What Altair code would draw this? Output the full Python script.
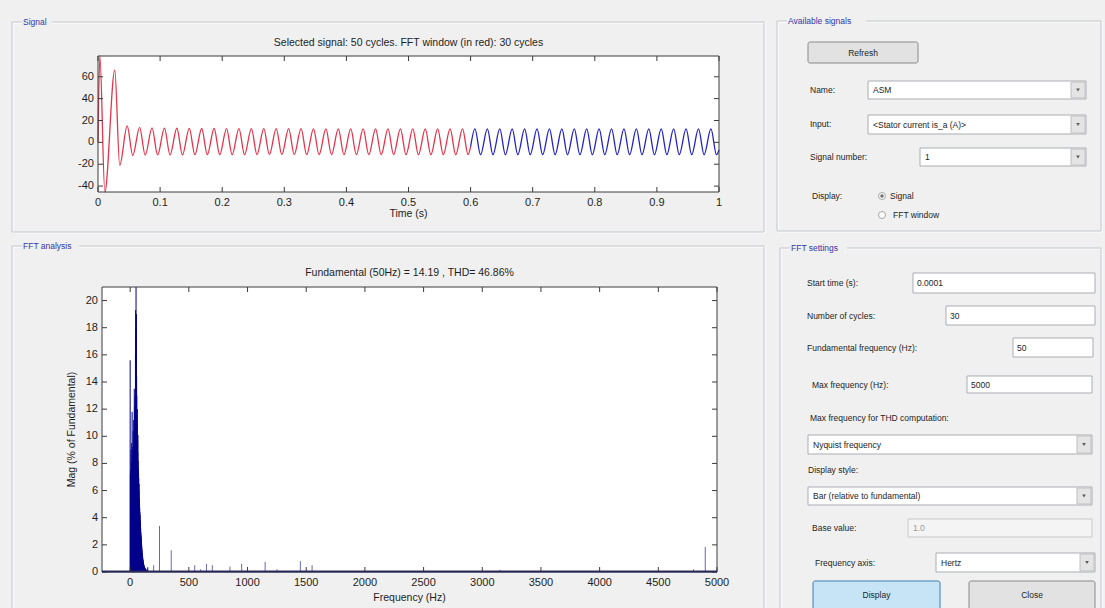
import altair as alt
import pandas as pd

FONT = "Liberation Sans"
W, H = 1105, 608
PAN_BG = "#f0f0f0"
TXT = "#1e1e1e"
FRAME = "#3c3c3c"
RED = "#e8334a"
BLUE = "#2323c8"
NAVY = "#00008b"

# ---------------- stator current is_a (A) ----------------
# start-up transient (time s, current A)
start_t = [0.0, 0.003, 0.011, 0.027, 0.035]
start_v = [0.0, 79.0, -45.4, 66.0, -21.0]
# steady 50 Hz oscillation: successive positive and negative peaks
peak_v = [15.0, 13.8, 13.3, 13.0, 12.9, 12.8, 12.7, 12.7,
          12.6, 12.6, 12.6, 12.5, 12.5, 12.5, 12.5, 12.4,
          12.4, 12.4, 12.4, 12.4, 12.4, 12.4, 12.3, 12.3,
          12.3, 12.3, 12.3, 12.3, 12.3, 12.3, 12.3, 12.3,
          12.3, 12.3, 12.3, 12.3, 12.3, 12.3, 12.3, 12.3,
          12.3, 12.3, 12.3, 12.3, 12.3, 12.3, 12.3, 12.3]
trough_v = [-12.0, -11.7, -11.5, -11.4, -11.4, -11.3, -11.3, -11.3,
            -11.3, -11.3, -11.3, -11.3, -11.3, -11.3, -11.3, -11.3,
            -11.3, -11.3, -11.3, -11.3, -11.3, -11.3, -11.3, -11.3,
            -11.3, -11.3, -11.3, -11.3, -11.3, -11.3, -11.3, -11.3,
            -11.3, -11.3, -11.3, -11.3, -11.3, -11.3, -11.3, -11.3,
            -11.3, -11.3, -11.3, -11.3, -11.3, -11.3, -11.3, -11.3]
window_end = (0.6, -4.0)
last_point = (1.0, -7.0)

# ---------------- FFT (% of fundamental) ----------------
bin_hz = 50 / 30  # resolution of a 30-cycle window
cluster_mag = [15.6,
               7.2, 6.8, 7.5, 9.0, 7.4, 8.1,
               7.6, 9.5, 8.0, 11.8, 7.9, 8.6,
               9.2, 7.8, 10.4, 8.3, 9.0, 11.2,
               8.8, 10.1, 13.5, 9.4, 12.2, 10.6,
               13.0, 11.5, 16.0, 19.3, 17.5,
               100.0,
               18.0, 19.0, 14.4, 13.0, 11.0,
               10.2, 12.0, 9.5, 8.8, 10.1, 8.2,
               7.6, 7.3, 6.9, 6.0, 6.5, 5.4,
               5.0, 4.7, 4.4, 4.2, 3.8, 3.6,
               3.2, 2.9, 2.7, 2.5, 2.2, 2.0,
               1.8, 1.6, 1.4, 1.3, 1.15, 1.0,
               0.9, 0.8, 0.7, 0.62, 0.55, 0.48,
               0.42, 0.38, 0.34, 0.3, 0.28, 0.25,
               0.23, 0.21, 0.19, 0.18, 0.16, 0.15,
               0.14, 0.13, 0.12, 0.11, 0.1, 0.1, 0.35]
harmonic_hz = [200, 250, 350, 550, 600, 650, 700, 850, 950, 1150, 1250,
               1450, 1550, 3150, 4800, 4900]
harmonic_mag = [0.5, 3.4, 1.6, 0.5, 0.2, 0.6, 0.5, 0.4, 0.6, 0.75, 0.2,
                0.8, 0.5, 0.15, 0.2, 1.85]

# axis tick values
sig_xticks = [0, 0.1, 0.2, 0.3, 0.4, 0.5, 0.6, 0.7, 0.8, 0.9, 1]
sig_yticks = [-40, -20, 0, 20, 40, 60]
fft_xticks = [0, 500, 1000, 1500, 2000, 2500, 3000, 3500, 4000, 4500, 5000]
fft_yticks = [0, 2, 4, 6, 8, 10, 12, 14, 16, 18, 20]

# ---------------- layout (pixels) ----------------
SIG_BOX = (98, 719, 56, 192)     # x0, x1, y0, y1 of the signal axes
FFT_BOX = (102, 717, 287, 572)   # x0, x1, y0, y1 of the spectrum axes
TICK = 5

sx = alt.Scale(domain=[0, 1], range=[SIG_BOX[0], SIG_BOX[1]], nice=False, zero=False)
sy = alt.Scale(domain=[-45.4, 79.0], range=[SIG_BOX[3], SIG_BOX[2]], nice=False, zero=False)
fx = alt.Scale(domain=[-240, 5000], range=[FFT_BOX[0], FFT_BOX[1]], nice=False, zero=False)
fy = alt.Scale(domain=[0, 21], range=[FFT_BOX[3], FFT_BOX[2]], nice=False, zero=False, clamp=True)


def axis_marks(xvals, yvals, xs, ys, box):
    """Inward ticks on all four sides plus the numeric tick labels."""
    x0, x1, y0, y1 = box
    tx = pd.DataFrame({"v": xvals, "s": [f"{v:g}" for v in xvals]})
    ty = pd.DataFrame({"v": yvals, "s": [f"{v:g}" for v in yvals]})
    rule = dict(color=FRAME, strokeWidth=1)
    lab = dict(font=FONT, fontSize=11, color=TXT, baseline="middle")
    X = alt.X("v:Q", scale=xs, axis=None)
    Y = alt.Y("v:Q", scale=ys, axis=None)
    return [
        alt.Chart(tx).mark_rule(**rule).encode(x=X, y=alt.value(y1), y2=alt.value(y1 - TICK)),
        alt.Chart(tx).mark_rule(**rule).encode(x=X, y=alt.value(y0), y2=alt.value(y0 + TICK)),
        alt.Chart(ty).mark_rule(**rule).encode(y=Y, x=alt.value(x0), x2=alt.value(x0 + TICK)),
        alt.Chart(ty).mark_rule(**rule).encode(y=Y, x=alt.value(x1), x2=alt.value(x1 - TICK)),
        alt.Chart(tx).mark_text(align="center", **lab).encode(
            x=X, y=alt.value(y1 + 11), text="s:N"),
        alt.Chart(ty).mark_text(align="right", **lab).encode(
            y=Y, x=alt.value(x0 - 4), text="s:N"),
    ]


# ---------------- signal table ----------------
rows = list(zip(start_t, start_v))
rows += [(0.047 + 0.02 * k, v) for k, v in enumerate(peak_v)]
rows += [(0.056 + 0.02 * k, v) for k, v in enumerate(trough_v)]
rows += [window_end, last_point]
sig = pd.DataFrame(rows, columns=["t", "v"]).sort_values("t")
sig_df = pd.concat([
    sig[sig.t <= window_end[0]].assign(part="window"),
    sig[sig.t >= window_end[0]].assign(part="rest"),
])

sig_line = alt.Chart(sig_df).mark_line(interpolate="monotone", strokeWidth=1.3).encode(
    x=alt.X("t:Q", scale=sx, axis=None),
    y=alt.Y("v:Q", scale=sy, axis=None),
    color=alt.Color("part:N", scale=alt.Scale(domain=["window", "rest"], range=[RED, BLUE]),
                    legend=None),
)
signal_group = alt.layer(sig_line, *axis_marks(sig_xticks, sig_yticks, sx, sy, SIG_BOX))

# ---------------- spectrum table ----------------
cluster_df = pd.DataFrame({"f": [k * bin_hz for k in range(len(cluster_mag))],
                           "mag": cluster_mag})
harm_df = pd.DataFrame({"f": harmonic_hz, "mag": harmonic_mag})
fft_cluster = alt.Chart(cluster_df).mark_rule(color=NAVY, strokeWidth=1).encode(
    x=alt.X("f:Q", scale=fx, axis=None),
    y=alt.Y("mag:Q", scale=fy, axis=None),
    y2=alt.datum(0),
)
fft_harm = alt.Chart(harm_df).mark_rule(color=NAVY, strokeWidth=0.8, opacity=0.75).encode(
    x=alt.X("f:Q", scale=fx, axis=None),
    y=alt.Y("mag:Q", scale=fy, axis=None),
    y2=alt.datum(0),
)
fft_group = alt.layer(fft_cluster, fft_harm,
                      *axis_marks(fft_xticks, fft_yticks, fx, fy, FFT_BOX))

# ---------------- window furniture ----------------
def px_rect(df, **mark):
    return alt.Chart(df).mark_rect(**mark).encode(
        x=alt.X("x:Q", scale=None, axis=None), x2=alt.X2("x2"),
        y=alt.Y("y:Q", scale=None, axis=None), y2=alt.Y2("y2"))


def px_text(df, **mark):
    base = dict(font=FONT, baseline="middle")
    base.update(mark)
    return alt.Chart(df).mark_text(**base).encode(
        x=alt.X("x:Q", scale=None, axis=None), y=alt.Y("y:Q", scale=None, axis=None),
        text="text:N")


def px_point(df, **mark):
    return alt.Chart(df).mark_point(**mark).encode(
        x=alt.X("x:Q", scale=None, axis=None), y=alt.Y("y:Q", scale=None, axis=None))


groups = pd.DataFrame({
    "x": [12, 12, 777, 780], "x2": [764, 764, 1101, 1101],
    "y": [22, 246, 21, 248], "y2": [232, 614, 231, 614],
    "text": ["Signal", "FFT analysis", "Available signals", "FFT settings"],
})
groups_hi = groups.assign(x=groups.x + 1, x2=groups.x2 + 1, y=groups.y + 1, y2=groups.y2 + 1)
group_titles = groups.assign(x=groups.x + 10, x2=groups.x + 14 + groups.text.str.len() * 4.4,
                             y2=groups.y + 5, y=groups.y - 5)
group_title_text = groups.assign(x=groups.x + 11)

plot_boxes = pd.DataFrame({
    "x": [SIG_BOX[0], FFT_BOX[0]], "x2": [SIG_BOX[1], FFT_BOX[1]],
    "y": [SIG_BOX[2], FFT_BOX[2]], "y2": [SIG_BOX[3], FFT_BOX[3]],
})
fft_floor = pd.DataFrame({"x": [FFT_BOX[0]], "x2": [FFT_BOX[1]],
                          "y": [FFT_BOX[3] - 1.5], "y2": [FFT_BOX[3] + 0.5]})

axis_titles = pd.DataFrame({
    "x": [(SIG_BOX[0] + SIG_BOX[1]) / 2, (FFT_BOX[0] + FFT_BOX[1]) / 2],
    "y": [SIG_BOX[3] + 22, FFT_BOX[3] + 26],
    "text": ["Time (s)", "Frequency (Hz)"],
})
y_title = pd.DataFrame({"x": [72], "y": [(FFT_BOX[2] + FFT_BOX[3]) / 2],
                        "text": ["Mag (% of Fundamental)"]})

edit_boxes = pd.DataFrame({
    "x": [913, 946, 1013, 967], "x2": [1095, 1095, 1093, 1092],
    "y": [273, 306, 338, 376], "y2": [293, 325, 357, 393],
    "text": ["0.0001", "30", "50", "5000"],
})
disabled_box = pd.DataFrame({"x": [908], "x2": [1092], "y": [519], "y2": [537], "text": ["1.0"]})
dropdowns = pd.DataFrame({
    "x": [868, 868, 920, 808, 808, 936], "x2": [1086, 1086, 1086, 1092, 1092, 1095],
    "y": [81, 115, 148, 435, 487, 553], "y2": [99, 134, 166, 454, 505, 572],
    "text": ["ASM", "<Stator current is_a (A)>", "1", "Nyquist frequency",
             "Bar (relative to fundamental)", "Hertz"],
})
drop_btn = dropdowns.assign(x=dropdowns.x2 - 15, x2=dropdowns.x2 - 1,
                            y=dropdowns.y + 1, y2=dropdowns.y2 - 1)
drop_arrow = pd.DataFrame({"x": dropdowns.x2 - 8, "y": (dropdowns.y + dropdowns.y2) / 2})
buttons = pd.DataFrame({"x": [808, 969], "x2": [918, 1095], "y": [42, 581], "y2": [63, 610],
                        "text": ["Refresh", "Close"]})
display_btn = pd.DataFrame({"x": [813], "x2": [940], "y": [581], "y2": [610], "text": ["Display"]})

labels = pd.DataFrame({
    "x": [810, 810, 810, 812, 890, 893, 807, 807, 807, 812, 810, 808, 812, 815],
    "y": [90, 124, 157, 196, 196, 215, 283, 316, 348, 385, 418, 470, 528, 563],
    "text": ["Name:", "Input:", "Signal number:", "Display:", "Signal", "FFT window",
             "Start time (s):", "Number of cycles:", "Fundamental frequency (Hz):",
             "Max frequency (Hz):", "Max frequency for THD computation:", "Display style:",
             "Base value:", "Frequency axis:"],
})
radios = pd.DataFrame({"x": [882, 882], "y": [196, 215]})
radio_on = pd.DataFrame({"x": [882], "y": [196]})

plot_titles = pd.DataFrame({
    "x": [(SIG_BOX[0] + SIG_BOX[1]) / 2, (FFT_BOX[0] + FFT_BOX[1]) / 2],
    "y": [43, 273],
    "text": ["Selected signal: 50 cycles. FFT window (in red): 30 cycles",
             "Fundamental (50Hz) = 14.19 , THD= 46.86%"],
})

back = alt.layer(
    px_rect(groups_hi, filled=False, stroke="#ffffff", strokeWidth=1),
    px_rect(groups, filled=False, stroke="#c3c8cd", strokeWidth=1),
    px_rect(group_titles, color=PAN_BG),
    px_rect(plot_boxes, color="#ffffff"),
)

front = alt.layer(
    px_rect(plot_boxes, filled=False, stroke=FRAME, strokeWidth=1),
    px_rect(fft_floor, color="#2a2a5a"),
    px_rect(edit_boxes, fill="#ffffff", stroke="#abadb3", strokeWidth=1),
    px_rect(disabled_box, fill="#f4f4f4", stroke="#c9c9c9", strokeWidth=1),
    px_rect(dropdowns, fill="#ffffff", stroke="#abadb3", strokeWidth=1),
    px_rect(drop_btn, fill="#e4e4e4", stroke="#c0c0c0", strokeWidth=1),
    px_point(drop_arrow, shape="triangle-down", filled=True, size=14, color="#222222"),
    px_rect(buttons, fill="#e2e2e2", stroke="#8a8a8a", strokeWidth=1, cornerRadius=2),
    px_rect(display_btn, fill="#c6e4f6", stroke="#3c7fb1", strokeWidth=1, cornerRadius=2),
    px_point(radios, shape="circle", filled=True, size=50, fill="#ffffff",
             stroke="#8c8c8c", strokeWidth=1),
    px_point(radio_on, shape="circle", filled=True, size=12, color="#333333"),
    px_text(group_title_text, fontSize=8.5, color="#3535a8", align="left"),
    px_text(labels, fontSize=8.5, color=TXT, align="left"),
    px_text(edit_boxes.assign(x=edit_boxes.x + 4, y=(edit_boxes.y + edit_boxes.y2) / 2),
            fontSize=8.5, color=TXT, align="left"),
    px_text(disabled_box.assign(x=disabled_box.x + 5, y=(disabled_box.y + disabled_box.y2) / 2),
            fontSize=8.5, color="#9a9a9a", align="left"),
    px_text(dropdowns.assign(x=dropdowns.x + 5, y=(dropdowns.y + dropdowns.y2) / 2),
            fontSize=8.5, color=TXT, align="left"),
    px_text(buttons.assign(x=(buttons.x + buttons.x2) / 2, y=[52.5, 595]),
            fontSize=8.5, color=TXT, align="center"),
    px_text(display_btn.assign(x=(display_btn.x + display_btn.x2) / 2, y=[595]),
            fontSize=8.5, color=TXT, align="center"),
    px_text(plot_titles, fontSize=10.5, color=TXT, align="center"),
    px_text(axis_titles, fontSize=10.5, color=TXT, align="center"),
    px_text(y_title, fontSize=10.5, color=TXT, align="center", angle=270),
)

chart = alt.layer(back, signal_group, fft_group, front).resolve_scale(
    x="independent", y="independent", color="independent"
).properties(
    width=W, height=H, padding=0, background=PAN_BG,
    autosize=alt.AutoSizeParams(type="none"),
).configure_view(strokeWidth=0)

chart.save("out.html", embed_options={"renderer": "svg", "actions": False})
